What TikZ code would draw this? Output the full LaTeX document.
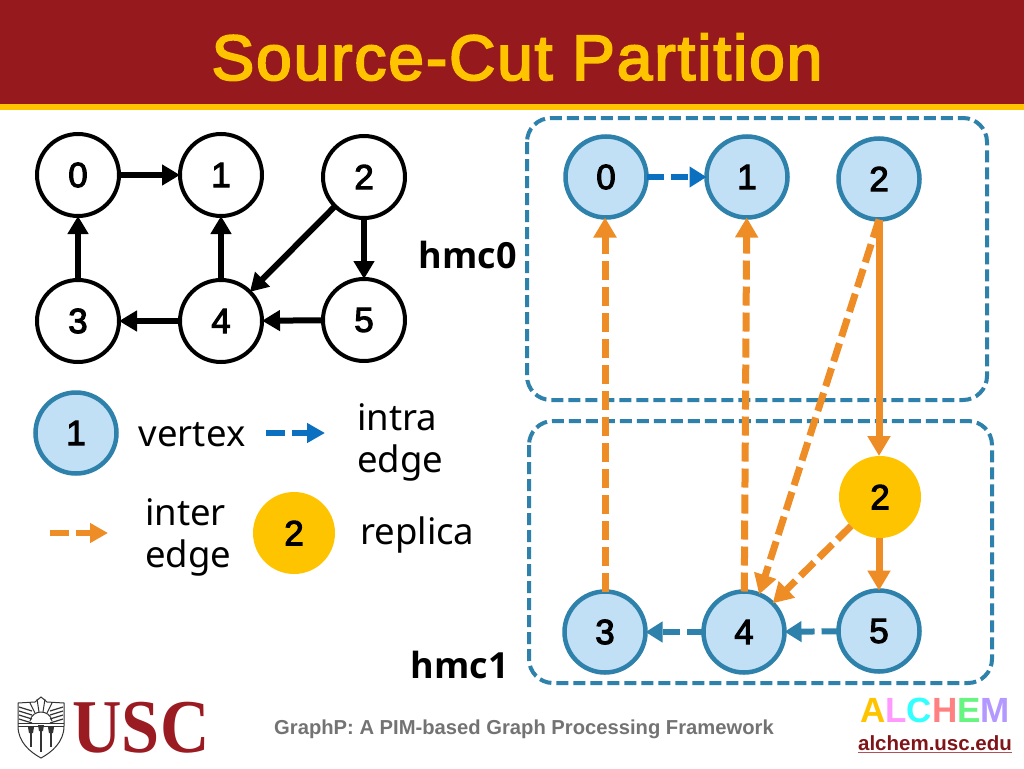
\documentclass[tikz,border=0pt]{standalone}
\usepackage{fontspec}
\setmainfont{Liberation Sans}
\newfontfamily\lblfont{Noto Sans}
\newfontfamily\hmcfont{Open Sans}
\newfontfamily\uscfont{Liberation Serif}
\newfontfamily\numfont[FakeBold=3]{Liberation Sans}
\newfontfamily\ttlfont[FakeBold=3,LetterSpace=3]{Liberation Sans}
\usetikzlibrary{arrows.meta}
\definecolor{banner}{HTML}{96191E}
\definecolor{gold}{HTML}{FFC400}
\definecolor{vfill}{HTML}{C1DFF5}
\definecolor{vline}{HTML}{2E81AA}
\definecolor{intra}{HTML}{0C70C0}
\definecolor{orng}{HTML}{EE8D25}
\definecolor{usc}{HTML}{9A1B22}
\tikzset{
  x=1pt,y=-1pt,
  gv/.style={circle,draw=black,line width=4pt,fill=white,minimum size=82pt,inner sep=0pt,outer sep=0pt,font=\fontsize{35}{35}\selectfont\numfont},
  bv/.style={circle,draw=vline,line width=4.5pt,fill=vfill,minimum size=81pt,inner sep=0pt,outer sep=0pt,font=\fontsize{35}{35}\selectfont\numfont},
  rv/.style={circle,fill=gold,minimum size=82pt,inner sep=0pt,outer sep=0pt,font=\fontsize{35}{35}\selectfont\numfont},
  gedge/.style={line width=6pt,-{Triangle[length=18pt,width=20pt]}},
  iedge/.style={line width=7pt,orng,dash pattern=on 19pt off 7pt,-{Triangle[length=20pt,width=22pt]}},
  sedge/.style={line width=7pt,orng,-{Triangle[length=20pt,width=22pt]}},
  tedge/.style={line width=6pt,vline,dash pattern=on 17pt off 7pt,-{Triangle[length=17pt,width=20pt]}},
  hbox/.style={draw=vline,line width=4pt,dash pattern=on 12pt off 5pt,rounded corners=24pt},
  lbl/.style={font=\fontsize{36.5}{36.5}\selectfont\lblfont,inner sep=0pt,text=black},
  hmc/.style={font=\fontsize{36}{36}\selectfont\hmcfont\bfseries,inner sep=0pt},
}
\begin{document}
\begin{tikzpicture}
\useasboundingbox (0,0) rectangle (1024,768);
\fill[white] (0,0) rectangle (1024,768);
\fill[banner] (0,0) rectangle (1024,104);
\fill[gold] (0,104) rectangle (1024,110);
\node[font=\fontsize{64}{64}\selectfont\ttlfont,text=gold,inner sep=0pt] (title) at (517,57) {Source-Cut Partition};

% left graph
\node[gv] (a0) at (78,175) {0};
\node[gv] (a1) at (221,175) {1};
\node[gv] (a2) at (364,177) {2};
\node[gv] (a3) at (78,321) {3};
\node[gv] (a4) at (221,321) {4};
\node[gv] (a5) at (364,320) {5};
\draw[gedge] (a0) -- (a1);
\draw[gedge] (a3) -- (a0);
\draw[gedge] (a4) -- (a1);
\draw[gedge] (a4) -- (a3);
\draw[gedge] (a5) -- (a4);
\draw[gedge] (a2) -- (a5);
\draw[gedge] (a2) -- (a4);

% boxes
\draw[hbox] (527,118) rectangle (987,400);
\draw[hbox] (529,421) rectangle (992,683);
\node[hmc] (h0) at (468,255) {hmc0};
\node[hmc] (h1) at (460,665) {hmc1};

% right graph
\node[bv] (b0) at (606,177) {0};
\node[bv] (b1) at (747,177) {1};
\node[bv] (b2) at (879,179) {2};
\node[bv] (b3) at (605,632) {3};
\node[bv] (b4) at (744,632) {4};
\node[bv] (b5) at (879,631) {5};
\node[rv] (r2) at (880,497) {2};
\draw[line width=6pt,intra,dash pattern=on 17pt off 7pt,-{Triangle[length=17pt,width=20pt]}] (b0) -- (b1);
\draw[tedge] (b4) -- (b3);
\draw[tedge] (b5) -- (b4);
\draw[iedge] (b3) -- (b3|-b0.south);
\draw[iedge] (b4) -- (b1);
\draw[iedge] (b2.south) -- (b4.68);
\draw[iedge] (r2.225) -- (b4.45);
\draw[sedge] (b2) -- (b2|-r2.north);
\draw[sedge] (r2.south-|b5) -- (b5);

% legend
\node[bv] (k1) at (76,433) {1};
\node[lbl,anchor=center] (kv) at (192,435) {vertex};
\coordinate (ib) at (266,433);
\coordinate (ie) at (325,433);
\draw[line width=6pt,intra,dash pattern=on 19pt off 7pt,-{Triangle[length=18pt,width=19pt]}] (ib) -- (ie);
\node[lbl,align=left,anchor=west] (ke) at (357,442) {intra\\[5.5pt]edge};
\coordinate (ob) at (50,533);
\coordinate (oe) at (108,533);
\draw[line width=6pt,orng,dash pattern=on 19pt off 7pt,-{Triangle[length=18pt,width=19pt]}] (ob) -- (oe);
\node[lbl,align=left,anchor=west] (ko) at (145,537) {inter\\[5.5pt]edge};
\node[rv] (k2) at (294,533) {2};
\node[lbl,anchor=west] (kr) at (360,535) {replica};

% footer
\node[font=\fontsize{20.2}{20.2}\selectfont\bfseries,text=black!55,inner sep=0pt] (foot) at (524,729) {GraphP: A PIM-based Graph Processing Framework};
\node[font=\fontsize{35}{35}\selectfont\bfseries,inner sep=0pt] (alc) at (935,710) {\textcolor{gold}{A}\textcolor[HTML]{FF99FF}{L}\textcolor[HTML]{33FFFF}{C}\textcolor[HTML]{FF8080}{H}\textcolor[HTML]{66F580}{E}\textcolor[HTML]{B399FF}{M}};
\node[font=\fontsize{20.5}{20.5}\selectfont\bfseries,text=banner!85!black,inner sep=0pt] (url) at (935,743) {alchem.usc.edu};
\draw[line width=1.5pt,banner!75] ([yshift=-2pt]url.south west) -- ([yshift=-2pt]url.south east);

% USC logo
\node[font=\fontsize{76}{76}\selectfont\uscfont\bfseries,text=usc,inner sep=0pt,xscale=0.9,transform shape] (uscword) at (141,728) {USC};
\begin{scope}[line width=1pt,black!80]
\draw (41,697) -- (47,702) -- (64,703) -- (64,726) .. controls (64,742) and (52,752) .. (41,758) .. controls (30,752) and (18,742) .. (18,726) -- (18,703) -- (35,702) -- cycle;
\foreach \yy in {707,711,715,719}{\draw[line width=1.2pt] (19,\yy) -- (32,\yy+4); \draw[line width=1.2pt] (63,\yy) -- (50,\yy+4);}
\draw (37,699) -- (39,712); \draw (45,699) -- (43,712); \draw (30,703) -- (35,713); \draw (52,703) -- (47,713);
\draw (30,721) .. controls (32,709) and (50,709) .. (52,721);
\draw (18,723) -- (64,723); \draw (18,726) -- (64,726);
\foreach \xx/\yt/\yb in {31/727/747,41/725/752,51/727/747}{
  \draw[line width=2.4pt] (\xx,\yt+4) -- (\xx,\yb);
  \fill (\xx-3,\yt) -- (\xx+3,\yt) -- (\xx+2,\yt+6) -- (\xx-2,\yt+6) -- cycle;
}
\end{scope}
\end{tikzpicture}
\end{document}
